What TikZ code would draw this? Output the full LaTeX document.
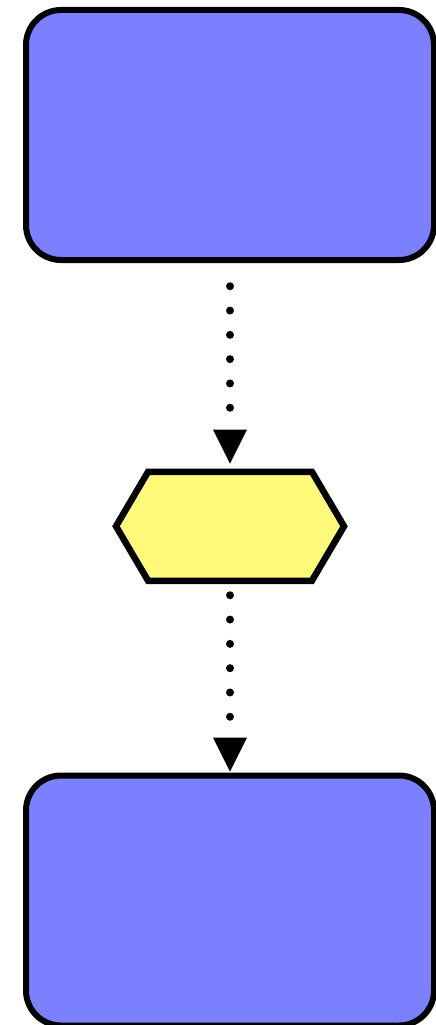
\documentclass[tikz,border=0pt]{standalone}
\usepackage{xcolor}
\usepackage{tikz}
\usetikzlibrary{shapes.symbols, arrows.meta, positioning}

\definecolor{boxblue}{RGB}{123,128,255}
\definecolor{hexyellow}{RGB}{255,250,122}

\begin{document}
\begin{tikzpicture}[
    >={Triangle[length=0.68cm, width=0.68cm, line width=0pt]},
    block/.style={draw=black, fill=#1, line width=0.12cm, rounded corners=0.7cm, minimum width=8.16cm, minimum height=5.0cm, inner sep=0pt},
    hexa/.style={draw=black, fill=#1, line width=0.13cm, signal, signal to=west and east, signal pointer angle=119, minimum width=4.56cm, minimum height=2.18cm, inner sep=0pt},
    flow/.style={->, line width=0.16cm, line cap=round, dash pattern=on 0pt off 0.486cm},
]

\useasboundingbox (0,0) rectangle (8.72,-20.5);

% ── Boxes ──
\node[block=boxblue] (top) at (4.6,-2.70) {};
\node[hexa=hexyellow, below=4.11cm of top] (mid) {};
\node[block=boxblue, below=3.77cm of mid] (bottom) {};

% ── Arrows ──
\draw[flow, shorten <=0.465cm, shorten >=0.1cm] (top) -- (mid);
\draw[flow, shorten <=0.225cm, shorten >=0.02cm] (mid) -- (bottom);

\end{tikzpicture}
\end{document}
